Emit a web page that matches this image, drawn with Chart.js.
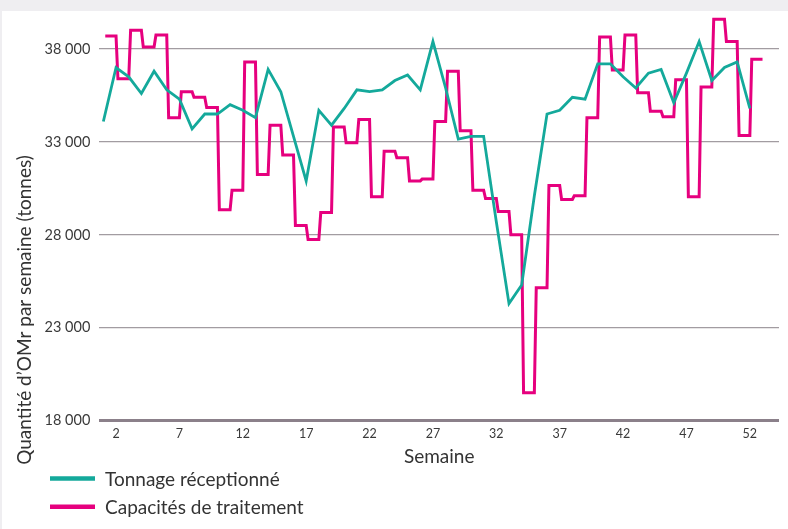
<!DOCTYPE html>
<html lang="fr">
<head>
<meta charset="utf-8">
<title>Tonnage réceptionné et capacités de traitement</title>
<script src="https://cdn.jsdelivr.net/npm/chart.js@4.4.1/dist/chart.umd.min.js"></script>
<style>
  html, body { margin: 0; padding: 0; background: #efeef1; }
  .card { position: absolute; left: 2px; top: 11px; width: 786px; height: 518px; background: #fff; }
</style>
</head>
<body>
<div class="card"><canvas id="omr" width="786" height="518"></canvas></div>
<script>
const weeks = Array.from({ length: 52 }, (_, i) => i + 1);

const tonnage = [
    34100, 37000, 36500, 35600, 36800, 35800, 35300, 33700, 34500, 34500,
    35000, 34700, 34300, 36900, 35700, 33300, 30900, 34700, 33900, 34800,
    35800, 35700, 35800, 36300, 36600, 35800, 38400, 35900, 33150, 33300,
    33300, 28700, 24300, 25300, 30100, 34500, 34700, 35400, 35300, 37200,
    37200, 36500, 35900, 36700, 36900, 35100, 36700, 38400, 36300, 37000,
    37300, 34800
];

const capacites = [
    38700, 36400, 39000, 38100, 38750, 34300, 35700, 35400, 34850, 29350,
    30400, 37300, 31250, 33900, 32300, 28500, 27750, 29200, 33800, 32950,
    34200, 30050, 32500, 32150, 30900, 31000, 34100, 36800, 33600, 30400,
    29950, 29250, 28000, 19500, 25150, 30650, 29900, 30100, 34300, 38650,
    36870, 38750, 35650, 34650, 34350, 36350, 30050, 35950, 39600, 38400,
    33350, 37450
];

const yTicks = [18000, 23000, 28000, 33000, 38000];
const xTicks = [2, 7, 12, 17, 22, 27, 32, 37, 42, 47, 52];

const TEAL = '#14a99b';
const PINK = '#e6007e';
const FONT = 'Lato, "Open Sans", sans-serif';

// capacity holds for a whole week: one flat stretch per week
const capaciteSteps = [];
weeks.forEach((w, i) => {
    capaciteSteps.push({ x: w + 0.15, y: capacites[i] });
    capaciteSteps.push({ x: w + 1, y: capacites[i] });
});

const fmt = v => String(v).replace(/\B(?=(\d{3})+$)/g, ' ');

// rotated y title and the stacked legend under the axis
const annotations = {
    id: 'annotations',
    afterDraw(chart) {
        const c = chart.ctx;
        c.save();
        c.fillStyle = '#333';
        c.font = '19px ' + FONT;
        c.textAlign = 'center';
        c.textBaseline = 'middle';
        c.translate(23, 299);
        c.rotate(-Math.PI / 2);
        c.fillText("Quantité d’OMr par semaine (tonnes)", 0, 0);
        c.restore();

        c.save();
        c.font = '19px ' + FONT;
        c.textAlign = 'left';
        c.textBaseline = 'middle';
        chart.data.datasets.forEach((ds, i) => {
            const y = 467.5 + i * 28.3;
            c.strokeStyle = ds.borderColor;
            c.lineWidth = 4.5;
            c.beginPath();
            c.moveTo(48, y);
            c.lineTo(93, y);
            c.stroke();
            c.fillStyle = '#333';
            c.fillText(ds.label, 103, y + 1.5);
        });
        c.restore();
    }
};

new Chart(document.getElementById('omr'), {
    type: 'line',
    data: {
        datasets: [{
            label: 'Tonnage réceptionné',
            data: weeks.map((w, i) => ({ x: w, y: tonnage[i] })),
            borderColor: TEAL,
            borderWidth: 2.8,
            pointRadius: 0,
            tension: 0
        }, {
            label: 'Capacités de traitement',
            data: capaciteSteps,
            borderColor: PINK,
            borderWidth: 3,
            pointRadius: 0,
            tension: 0
        }]
    },
    options: {
        responsive: false,
        animation: false,
        layout: { padding: { left: 0, top: 4.5, right: 9, bottom: 0 } },
        plugins: {
            legend: { display: false },
            tooltip: { enabled: false }
        },
        scales: {
            x: {
                type: 'linear',
                min: 0.68,
                max: 54.3,
                afterBuildTicks: axis => { axis.ticks = xTicks.map(v => ({ value: v })); },
                afterFit: axis => { axis.height = 108.3; },
                grid: { display: false, drawTicks: false },
                border: { display: false },
                ticks: { padding: 6, color: '#3a3a3a', font: { family: FONT, size: 12.5 }, maxRotation: 0 },
                title: {
                    display: true,
                    text: 'Semaine',
                    color: '#333',
                    font: { family: FONT, size: 19 },
                    padding: { top: 0, bottom: 61 }
                }
            },
            y: {
                min: 18000,
                max: 39800,
                afterBuildTicks: axis => { axis.ticks = yTicks.map(v => ({ value: v })); },
                afterFit: axis => {
                    axis.width = 97.3;
                    axis.paddingTop = 0;
                    axis.paddingBottom = 0;
                },
                grid: {
                    drawTicks: false,
                    color: ctx => ctx.tick && ctx.tick.value === 18000 ? '#8b808a' : '#a29ca1',
                    lineWidth: ctx => ctx.tick && ctx.tick.value === 18000 ? 3 : 1.3
                },
                border: { display: false },
                ticks: {
                    padding: 9,
                    color: '#3a3a3a',
                    font: { family: FONT, size: 14.5 },
                    callback: v => fmt(v)
                }
            }
        }
    },
    plugins: [annotations]
});
</script>
</body>
</html>
